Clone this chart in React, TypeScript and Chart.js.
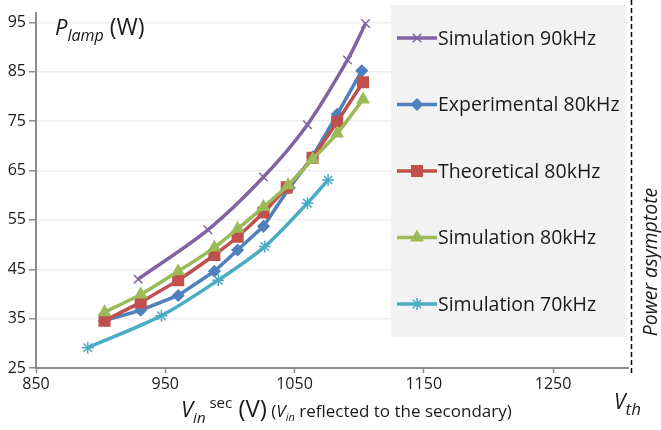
import React, { useEffect, useRef } from "react";
import { Chart, registerables } from "chart.js";
import { drawPoint } from "chart.js/helpers";

Chart.register(...registerables);

// ---- data ----
const xTickValues = [850, 950, 1050, 1150, 1250];
const yTickValues = [25, 35, 45, 55, 65, 75, 85, 95];

const seriesNames = [
  "Simulation 90kHz",
  "Experimental 80kHz",
  "Theoretical 80kHz",
  "Simulation 80kHz",
  "Simulation 70kHz",
];
const seriesColors = ["#8064A2", "#4F81BD", "#C0504D", "#9BBB59", "#4BACC6"];

const sim90X = [929, 983, 1026, 1060, 1091, 1105];
const sim90Y = [43, 53, 63.7, 74.3, 87.4, 94.8];

const exp80X = [903, 931, 960, 988, 1006, 1026, 1046, 1064, 1083, 1102];
const exp80Y = [34.6, 36.7, 39.7, 44.6, 48.9, 53.7, 61.5, 67.8, 76.4, 85.2];

const theo80X = [903, 931, 960, 988, 1006, 1026, 1044, 1064, 1083, 1103];
const theo80Y = [34.6, 38.3, 42.8, 47.9, 51.6, 56.5, 61.6, 67.6, 74.9, 82.9];

const sim80X = [903, 931, 960, 988, 1006, 1026, 1045, 1064, 1083, 1103];
const sim80Y = [36.3, 39.9, 44.6, 49.4, 53.2, 57.6, 62.0, 67.3, 72.5, 79.4];

const sim70X = [890, 947, 991, 1027, 1060, 1076];
const sim70Y = [29.1, 35.6, 42.8, 49.6, 58.4, 63.1];

const vthValue = 1310;

const FONT = '"Open Sans", "DejaVu Sans", sans-serif';
const TEXT = "#1a1a1a";

const pts = (xs: number[], ys: number[]) => xs.map((x, i) => ({ x, y: ys[i] }));

const markerDefs = [
  { pointStyle: "crossRot", radius: 6, fill: false },
  { pointStyle: "rectRot", radius: 5.5, fill: true },
  { pointStyle: "rect", radius: 7.5, fill: true },
  { pointStyle: "triangle", radius: 6.5, fill: true },
  { pointStyle: "star", radius: 6, fill: false },
];

type Run = { text: string; font: string; dy?: number };
function drawRuns(ctx: CanvasRenderingContext2D, x: number, baseline: number, runs: Run[]) {
  let cx = x;
  ctx.textAlign = "left";
  ctx.textBaseline = "alphabetic";
  for (const r of runs) {
    ctx.font = r.font;
    ctx.fillText(r.text, cx, baseline + (r.dy || 0));
    cx += ctx.measureText(r.text).width;
  }
}

const decorPlugin = {
  id: "decor",
  beforeDatasetsDraw(chart: any) {
    const ctx = chart.ctx as CanvasRenderingContext2D;
    ctx.save();
    ctx.fillStyle = "#F2F2F2";
    ctx.fillRect(391, 5, 235, 332);
    ctx.restore();
  },
  afterDraw(chart: any) {
    const ctx = chart.ctx as CanvasRenderingContext2D;
    const xs = chart.scales.x;
    ctx.save();

    // Vth dashed asymptote
    const vx = Math.round(xs.getPixelForValue(vthValue)) + 0.5;
    ctx.strokeStyle = "#000";
    ctx.lineWidth = 1.5;
    ctx.setLineDash([5, 3]);
    ctx.beginPath();
    ctx.moveTo(vx, 0);
    ctx.lineTo(vx, 374);
    ctx.stroke();
    ctx.setLineDash([]);

    ctx.fillStyle = TEXT;
    // legend
    const legendTop = 38;
    const step = 66.5;
    seriesNames.forEach((name, i) => {
      const cy = legendTop + i * step;
      ctx.strokeStyle = seriesColors[i];
      ctx.lineWidth = 3.5;
      ctx.beginPath();
      ctx.moveTo(397, cy);
      ctx.lineTo(437, cy);
      ctx.stroke();
      const m = markerDefs[i];
      ctx.fillStyle = seriesColors[i];
      ctx.strokeStyle = seriesColors[i];
      ctx.lineWidth = 1.5;
      drawPoint(ctx, { pointStyle: m.pointStyle as any, radius: m.radius, rotation: 0, borderWidth: 1.5 }, 417, cy);
      if (m.fill) ctx.fill();
      ctx.fillStyle = TEXT;
      ctx.font = `19.5px ${FONT}`;
      ctx.textAlign = "left";
      ctx.textBaseline = "middle";
      ctx.fillText(name, 438, cy + 1);
    });

    // y title
    drawRuns(ctx, 55, 35, [
      { text: "P", font: `italic 22px ${FONT}` },
      { text: "lamp", font: `italic 16px ${FONT}`, dy: 6 },
      { text: " (W)", font: `23px ${FONT}` },
    ]);

    // x title
    drawRuns(ctx, 181, 417, [
      { text: "V", font: `italic 22px ${FONT}` },
      { text: "in", font: `italic 15px ${FONT}`, dy: 6 },
      { text: " sec", font: `15px ${FONT}`, dy: -9 },
      { text: " (V)", font: `24px ${FONT}` },
      { text: " (", font: `17px ${FONT}` },
      { text: "V", font: `italic 17px ${FONT}` },
      { text: "in", font: `italic 11px ${FONT}`, dy: 4 },
      { text: " reflected to the secondary)", font: `17px ${FONT}` },
    ]);

    // V_th
    drawRuns(ctx, 614, 409, [
      { text: "V", font: `italic 21px ${FONT}` },
      { text: "th", font: `italic 17px ${FONT}`, dy: 6 },
    ]);

    // Power asymptote
    ctx.translate(651, 262);
    ctx.rotate(-Math.PI / 2);
    ctx.font = `italic 19.5px ${FONT}`;
    ctx.textAlign = "center";
    ctx.textBaseline = "middle";
    ctx.fillText("Power asymptote", 0, 0);
    ctx.restore();
  },
};

export default function App() {
  const ref = useRef<HTMLCanvasElement>(null);
  useEffect(() => {
    const canvas = ref.current!;
    const all = [
      pts(sim90X, sim90Y),
      pts(exp80X, exp80Y),
      pts(theo80X, theo80Y),
      pts(sim80X, sim80Y),
      pts(sim70X, sim70Y),
    ];
    const tensions = [0.3, 0, 0.1, 0.2, 0.3];
    const datasets = all.map((data, i) => ({
      label: seriesNames[i],
      data,
      borderColor: seriesColors[i],
      backgroundColor: seriesColors[i],
      borderWidth: 3.5,
      pointStyle: markerDefs[i].pointStyle as any,
      pointRadius: markerDefs[i].radius,
      pointBorderWidth: 1.5,
      pointBorderColor: seriesColors[i],
      pointBackgroundColor: markerDefs[i].fill ? seriesColors[i] : "rgba(0,0,0,0)",
      tension: tensions[i],
      showLine: true,
      order: 5 - i,
    }));

    const chart = new Chart(canvas, {
      type: "scatter",
      data: { datasets },
      plugins: [decorPlugin],
      options: {
        responsive: false,
        animation: false,
        devicePixelRatio: 1,
        layout: { autoPadding: false, padding: { left: 0, top: 0, right: 33, bottom: 0 } },
        plugins: { legend: { display: false }, tooltip: { enabled: false } },
        scales: {
          x: {
            type: "linear",
            min: 850,
            max: 1308,
            afterBuildTicks: (s: any) => {
              s.ticks = xTickValues.map((v) => ({ value: v }));
            },
            afterFit: (s: any) => {
              s.height = 62;
            },
            ticks: {
              color: TEXT,
              font: { family: FONT, size: 16 },
              padding: 2,
              callback: (v: any) => String(v),
            },
            grid: { drawOnChartArea: false, drawTicks: true, tickLength: 5, tickColor: "#8C8C8C", tickWidth: 1.5 },
            border: { color: "#8C8C8C", width: 2 },
          },
          y: {
            type: "linear",
            min: 25,
            max: 97,
            afterBuildTicks: (s: any) => {
              s.ticks = yTickValues.map((v) => ({ value: v }));
            },
            afterFit: (s: any) => {
              s.width = 36;
            },
            ticks: { color: TEXT, font: { family: FONT, size: 16 }, padding: 3, callback: (v: any) => String(v) },
            grid: { color: "#EEEEEE", lineWidth: 1.5, drawTicks: true, tickLength: 7, tickColor: "#8C8C8C", tickWidth: 1.5 },
            border: { color: "#8C8C8C", width: 2 },
          },
        },
      } as any,
    });
    return () => chart.destroy();
  }, []);
  return (
    <div style={{ position: "absolute", left: 0, top: 0, width: 661, height: 430, background: "#fff" }}>
      <canvas ref={ref} width={661} height={430} style={{ display: "block" }} />
    </div>
  );
}
